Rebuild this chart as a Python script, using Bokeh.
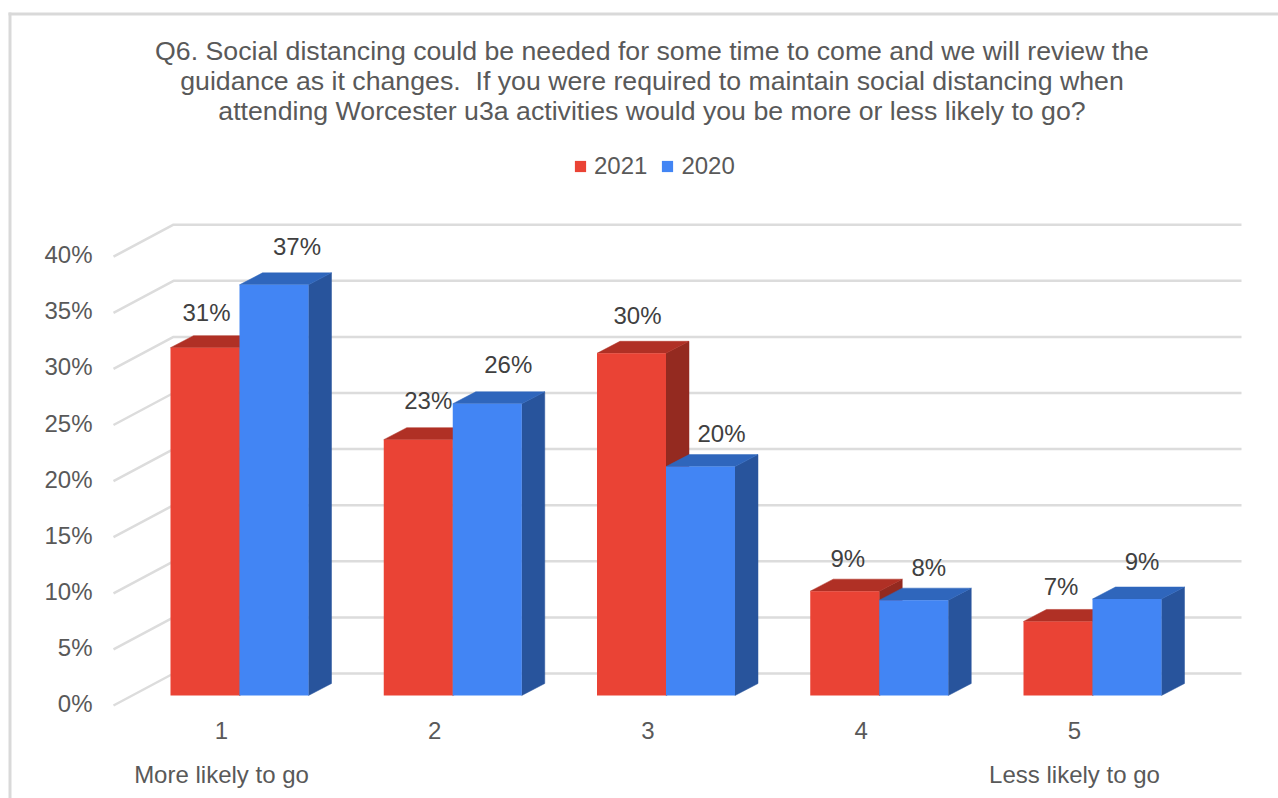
from bokeh.core.properties import value
from bokeh.embed import file_html
from bokeh.models import (BoxAnnotation, ColumnDataSource, FixedTicker, Label, Legend,
                          LegendItem, LinearAxis, PrintfTickFormatter, Range1d)
from bokeh.plotting import figure
from bokeh.resources import INLINE

# Survey results, percent of answers per point on the scale
scale_points = [1, 2, 3, 4, 5]
series_2021 = [31.0, 22.8, 30.5, 9.3, 6.6]
series_2020 = [36.6, 26.0, 20.4, 8.5, 8.6]
percent_ticks = [0, 5, 10, 15, 20, 25, 30, 35, 40]
title_lines = [
    "Q6. Social distancing could be needed for some time to come and we will review the",
    "guidance as it changes.\u00a0 If you were required to maintain social distancing when",
    "attending Worcester u3a activities would you be more or less likely to go?",
]
left_note = "More likely to go"
right_note = "Less likely to go"

WIDTH, HEIGHT = 1278, 798
FONT = "Liberation Sans"
GREY = "#595959"
DARK = "#404040"
TEXT_SIZE = "24px"
TITLE_SIZE = "26.7px"

# Scale of the plot: pixels per scale point and per percent
PX_X, PX_Y = 213.25, 11.22
ORIGIN_X, ORIGIN_Y = 239.0, 695.0      # pixel position of point 1 at 0%
BAR = 69 / PX_X                        # bar width in scale points
DEPTH_X, DEPTH_Y = 23 / PX_X, 12 / PX_Y  # oblique projection of the bar depth


def dx(px):
    return 1 + (px - ORIGIN_X) / PX_X


def dy(px):
    return (ORIGIN_Y - px) / PX_Y


p = figure(width=WIDTH, height=HEIGHT, output_backend="svg", toolbar_location=None,
           x_range=Range1d(dx(0), dx(WIDTH)), y_range=Range1d(dy(HEIGHT), dy(0)),
           x_axis_location=None, y_axis_location=None,
           min_border=0, min_border_left=0, min_border_right=0, min_border_top=0,
           min_border_bottom=0, background_fill_color="white", border_fill_color="white",
           outline_line_color=None)
p.grid.visible = False

# Slanted floor strip and back wall for each gridline
wall_y_shift = (695 - 673) / PX_Y
floor_y_shift = (705 - 695) / PX_Y
grid_xs = [[dx(113), dx(173), dx(1241)] for _ in percent_ticks]
grid_ys = [[t - floor_y_shift, t + wall_y_shift, t + wall_y_shift] for t in percent_ticks]
p.multi_line(grid_xs, grid_ys, line_color="#dcdcdc", line_width=2.5)


def draw_bars(values, offset, front, top, side):
    lefts = [c + offset for c in scale_points]
    rights = [x + BAR for x in lefts]
    p.patches([[r, r + DEPTH_X, r + DEPTH_X, r] for r in rights],
              [[0, DEPTH_Y, v + DEPTH_Y, v] for v in values],
              fill_color=side, line_color=side, line_width=0.5)
    p.patches([[l, r, r + DEPTH_X, l + DEPTH_X] for l, r in zip(lefts, rights)],
              [[v, v, v + DEPTH_Y, v + DEPTH_Y] for v in values],
              fill_color=top, line_color=top, line_width=0.5)
    return p.quad(left=lefts, right=rights, bottom=0, top=values,
                  fill_color=front, line_color=None), lefts


red, red_left = draw_bars(series_2021, -BAR, "#EA4335", "#B03025", "#942A20")
blue, blue_left = draw_bars(series_2020, 0, "#4285F4", "#2F66BC", "#28549C")

# Value labels sit above each bar, nudged clear of its top face
label_x = red_left + blue_left
label_y = series_2021 + series_2020
label_nudge_x = [1.5, 10, 6, 3, 3, 23, 21, 21, 15, 15]
label_nudge_y = [-35, -39, -38, -33, -35, -38, -39, -33, -33, -38]
labels = ColumnDataSource(dict(
    x=[v + BAR / 2 for v in label_x],
    y=label_y,
    text=[f"{round(v)}%" for v in label_y],
    xo=label_nudge_x,
    yo=label_nudge_y,
))
p.text("x", "y", text="text", x_offset="xo", y_offset="yo", source=labels,
       text_font=value(FONT), text_font_size=TEXT_SIZE, text_color=DARK,
       text_align="center", text_baseline="middle")

# Percent axis sits slightly lower than the bars, on the slanted floor edge
p.extra_y_ranges["percent"] = Range1d(dy(HEIGHT) + 8 / PX_Y, dy(0) + 8 / PX_Y)
y_axis = LinearAxis(y_range_name="percent", fixed_location=dx(100),
                    ticker=FixedTicker(ticks=percent_ticks),
                    formatter=PrintfTickFormatter(format="%d%%"),
                    axis_line_color=None, major_tick_line_color=None,
                    minor_tick_line_color=None, major_label_standoff=2,
                    major_label_text_font=FONT, major_label_text_font_size=TEXT_SIZE,
                    major_label_text_color=GREY)
p.add_layout(y_axis, "left")

# Scale point axis is centred under the front-left edge of the floor
p.extra_x_ranges["points"] = Range1d(dx(0) + 18 / PX_X, dx(WIDTH) + 18 / PX_X)
x_axis = LinearAxis(x_range_name="points", fixed_location=dy(712),
                    ticker=FixedTicker(ticks=scale_points),
                    axis_line_color=None, major_tick_line_color=None,
                    minor_tick_line_color=None, major_label_standoff=3,
                    major_label_text_font=FONT, major_label_text_font_size=TEXT_SIZE,
                    major_label_text_color=GREY)
p.add_layout(x_axis, "below")


def caption(text, x, y, size=TEXT_SIZE, color=GREY):
    p.add_layout(Label(x=x, y=y, x_units="data", y_units="data", text=text,
                       text_font=FONT, text_font_size=size, text_color=color,
                       text_align="center", text_baseline="middle"))


for line, y in zip(title_lines, [50.5, 80.5, 110.5]):
    caption(line, dx(651.5), dy(y), size=TITLE_SIZE)
caption(left_note, dx(221), dy(774))
caption(right_note, dx(1074), dy(774))

# Horizontal legend above the plot
legend = Legend(items=[LegendItem(label="2021", renderers=[red]),
                       LegendItem(label="2020", renderers=[blue])],
                orientation="horizontal", location=(575 - 2, HEIGHT - 180),
                glyph_width=14, glyph_height=14, label_standoff=7, spacing=13,
                padding=0, margin=0, border_line_color=None, background_fill_alpha=0,
                label_text_font=FONT, label_text_font_size=TEXT_SIZE, label_text_color=GREY)
p.add_layout(legend, "center")

# Thin border along the top and left of the chart area
p.add_layout(BoxAnnotation(left=dx(8), right=dx(WIDTH), bottom=dy(15), top=dy(12),
                           fill_color="#d9d9d9", fill_alpha=1, line_color=None))
p.add_layout(BoxAnnotation(left=dx(8), right=dx(11), bottom=dy(HEIGHT), top=dy(12),
                           fill_color="#d9d9d9", fill_alpha=1, line_color=None))

open("out.html", "w").write(file_html(p, INLINE))
